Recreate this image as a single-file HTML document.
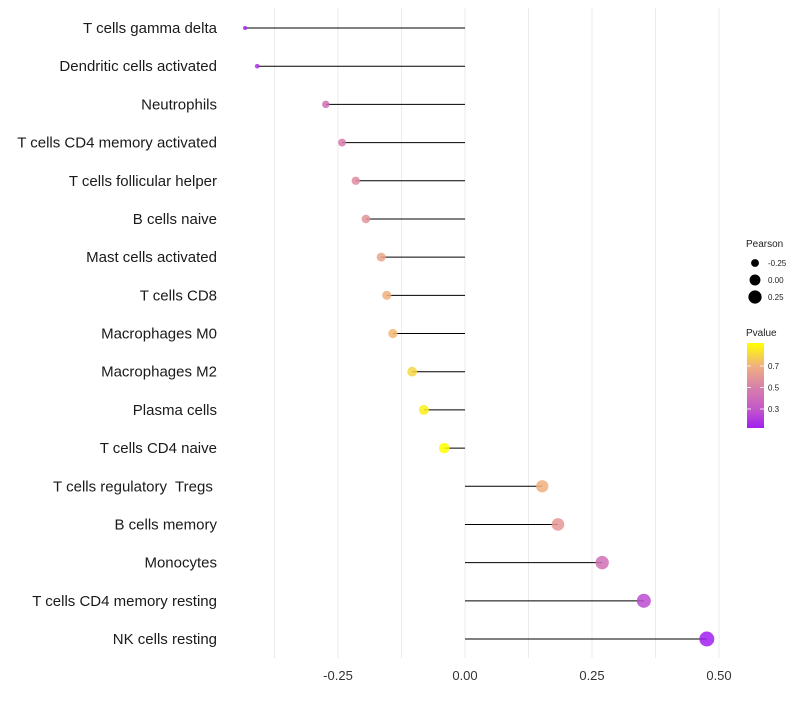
<!DOCTYPE html>
<html><head><meta charset="utf-8"><style>
body{margin:0;background:#fff;font-family:"Liberation Sans",sans-serif}
text{white-space:pre}
</style></head><body>
<svg id="chart" width="800" height="700" xmlns="http://www.w3.org/2000/svg" font-family="Liberation Sans, sans-serif"></svg>
<script>
const categories=["T cells gamma delta","Dendritic cells activated","Neutrophils","T cells CD4 memory activated","T cells follicular helper","B cells naive","Mast cells activated","T cells CD8","Macrophages M0","Macrophages M2","Plasma cells","T cells CD4 naive","T cells regulatory  Tregs ","B cells memory","Monocytes","T cells CD4 memory resting","NK cells resting"];
const pearson=[-0.433,-0.409,-0.274,-0.242,-0.215,-0.195,-0.165,-0.154,-0.142,-0.104,-0.081,-0.041,0.152,0.183,0.270,0.352,0.476];
const pvalue=[0.13,0.18,0.42,0.48,0.55,0.58,0.65,0.70,0.72,0.80,0.87,0.91,0.70,0.60,0.42,0.26,0.12];
const xTicks=[-0.25,0,0.25,0.5];
const xTickLabels=["-0.25","0.00","0.25","0.50"];
const legendSizes=[-0.25,0,0.25];
const legendP=[0.7,0.5,0.3];

const svg=document.getElementById('chart');
const NS="http://www.w3.org/2000/svg";
function mk(t,a,p){const e=document.createElementNS(NS,t);for(const k in a)e.setAttribute(k,a[k]);(p||svg).appendChild(e);return e;}
const x=v=>465+v*508;
const y=i=>28+i*(639-28)/16;
const r=v=>Math.sqrt(Math.max(1,24.5+51.4*v))+0.5;
const stops=[[0.12,[160,32,240]],[0.3,[196,88,200]],[0.5,[216,128,170]],[0.7,[240,176,128]],[0.91,[255,255,0]]];
function col(p){if(p<=stops[0][0])return 'rgb('+stops[0][1]+')';for(let i=1;i<stops.length;i++){if(p<=stops[i][0]){const a=stops[i-1],b=stops[i],t=(p-a[0])/(b[0]-a[0]);return 'rgb('+a[1].map((c,j)=>Math.round(c+(b[1][j]-c)*t)).join(',')+')';}}return 'rgb('+stops[stops.length-1][1]+')';}

for(let v=-0.375;v<=0.5001;v+=0.125){const g=mk('line',{x1:x(v),x2:x(v),y1:8,y2:658,stroke:'#ebebeb','stroke-width':1});

}
xTicks.forEach((v,i)=>{const t=mk('text',{x:x(v),y:680,'text-anchor':'middle','font-size':13,fill:'#333'});t.textContent=xTickLabels[i];

});

categories.forEach((c,i)=>{
const t=mk('text',{x:217,y:y(i)+5,'text-anchor':'end','font-size':15,fill:'#1a1a1a'});t.textContent=c;


const l=mk('line',{x1:x(0),x2:x(pearson[i]),y1:y(i),y2:y(i),stroke:'#000','stroke-width':1});


const d=mk('circle',{cx:x(pearson[i]),cy:y(i),r:r(pearson[i]),fill:col(pvalue[i]),'fill-opacity':0.85});


});

let tt=mk('text',{x:746,y:247,'font-size':10,fill:'#222'});tt.textContent='Pearson';


legendSizes.forEach((v,i)=>{const cy=263+i*17;
const c=mk('circle',{cx:755,cy:cy,r:r(v),fill:'#000'});


const t=mk('text',{x:768,y:cy+3,'font-size':8,fill:'#222'});t.textContent=v===0?'0.00':v.toFixed(2);

});
tt=mk('text',{x:746,y:336,'font-size':10,fill:'#222'});tt.textContent='Pvalue';


const defs=mk('defs',{});const lg=mk('linearGradient',{id:'pg',x1:0,y1:1,x2:0,y2:0},defs);
stops.forEach(s=>mk('stop',{offset:((s[0]-0.123)/(0.914-0.123)),'stop-color':'rgb('+s[1]+')'},lg));
const bar=mk('rect',{x:747,y:343,width:17,height:85,fill:'url(#pg)'});


const py=p=>409-(p-0.3)/0.2*21.5;
legendP.forEach(p=>{mk('line',{x1:747,x2:751,y1:py(p),y2:py(p),stroke:'#fff','stroke-width':0.8});mk('line',{x1:760,x2:764,y1:py(p),y2:py(p),stroke:'#fff','stroke-width':0.8});
const t=mk('text',{x:768,y:py(p)+3,'font-size':8,fill:'#222'});t.textContent=p.toFixed(1);

});
</script>
</body></html>
